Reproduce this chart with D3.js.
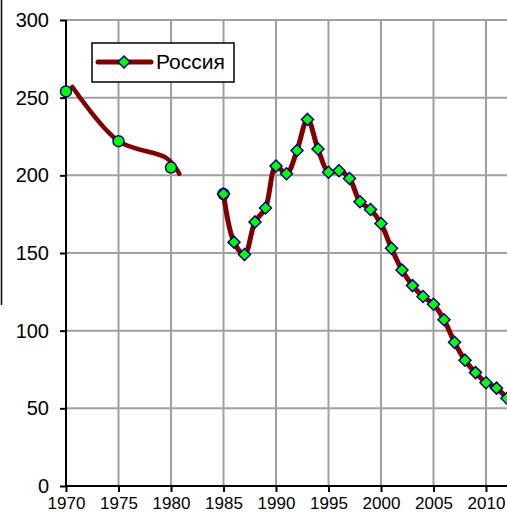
<!DOCTYPE html>
<html>
<head>
<meta charset="utf-8">
<script src="https://cdn.jsdelivr.net/npm/d3@7"></script>
<style>
    body { margin: 0; background: #fff; }
    svg { display: block; font-family: Arial, "Liberation Sans", sans-serif; }
</style>
</head>
<body>
<div id="chart"></div>
<script>
// data
var xTicks = [1970, 1975, 1980, 1985, 1990, 1995, 2000, 2005, 2010];
var yTicks = [0, 50, 100, 150, 200, 250, 300];

// early years, circle markers only
var circleYears = [1970, 1975, 1980, 1985];
var circleValues = [254, 222, 205, 188];

// the smoothed line drawn over the early circles
var earlyYears = [1970.6, 1975, 1979.6, 1980.8];
var earlyValues = [257, 222, 211, 201];

// main series (Россия)
var years = [1985, 1986, 1987, 1988, 1989, 1990, 1991, 1992, 1993, 1994,
             1995, 1996, 1997, 1998, 1999, 2000, 2001, 2002, 2003, 2004,
             2005, 2006, 2007, 2008, 2009, 2010, 2011, 2012];
var values = [188, 157, 149, 170, 179, 206, 201, 216, 236, 217,
              202, 203, 198, 183, 178, 169, 153, 139, 129, 122,
              117, 107, 92.5, 81, 73, 66.5, 63, 56.5];

(function() {
    var width = 507,
        height = 517,
        left = 66,
        top = 20,
        bottom = 486,
        lineColor = '#800000',
        gridColor = '#a0a0a0',
        markerFill = '#00ff00',
        markerStroke = '#000080';

    var svg = d3.select('#chart').append('svg')
        .attr('width', width)
        .attr('height', height);

    var x = d3.scaleLinear().domain([1970, 2010]).range([left, 486]);
    var y = d3.scaleLinear().domain([0, 300]).range([bottom, top]);

    // stray frame line on the far left
    svg.append('line')
        .attr('x1', 1.5).attr('x2', 1.5)
        .attr('y1', 0).attr('y2', 305)
        .attr('stroke', '#000')
        .attr('stroke-width', 1.5);

    // grid
    svg.append('g').selectAll('line')
        .data(yTicks.filter(function(d) { return d > 0; }))
        .enter().append('line')
        .attr('x1', left).attr('x2', width)
        .attr('y1', function(d) { return y(d); })
        .attr('y2', function(d) { return y(d); })
        .attr('stroke', gridColor)
        .attr('stroke-width', 2);

    svg.append('g').selectAll('line')
        .data(xTicks.filter(function(d) { return d > 1970; }))
        .enter().append('line')
        .attr('x1', function(d) { return x(d); })
        .attr('x2', function(d) { return x(d); })
        .attr('y1', top).attr('y2', bottom)
        .attr('stroke', gridColor)
        .attr('stroke-width', 2);

    // axes
    var yAxis = svg.append('g')
        .attr('transform', 'translate(' + left + ',0)')
        .call(d3.axisLeft(y).tickValues(yTicks).tickSize(6).tickPadding(11));
    yAxis.select('.domain').remove();
    yAxis.selectAll('line').attr('stroke', '#000').attr('stroke-width', 2);
    yAxis.selectAll('text')
        .attr('fill', '#000')
        .attr('font-size', '20px')
        .attr('font-family', 'Arial, "Liberation Sans", sans-serif');

    var xAxis = svg.append('g')
        .attr('transform', 'translate(0,' + bottom + ')')
        .call(d3.axisBottom(x).tickValues(xTicks).tickSize(6).tickPadding(5)
            .tickFormat(d3.format('d')));
    xAxis.select('.domain').remove();
    xAxis.selectAll('line').attr('stroke', '#000').attr('stroke-width', 2);
    xAxis.selectAll('text')
        .attr('fill', '#000')
        .attr('font-size', '17px')
        .attr('font-family', 'Arial, "Liberation Sans", sans-serif');

    svg.append('line')
        .attr('x1', left).attr('x2', left)
        .attr('y1', top).attr('y2', bottom + 1)
        .attr('stroke', '#000').attr('stroke-width', 2);
    svg.append('line')
        .attr('x1', left - 1).attr('x2', width)
        .attr('y1', bottom).attr('y2', bottom)
        .attr('stroke', '#000').attr('stroke-width', 2);

    var line = d3.line()
        .x(function(d) { return x(d[0]); })
        .y(function(d) { return y(d[1]); })
        .curve(d3.curveCatmullRom.alpha(0.5));

    // early smooth line
    svg.append('path')
        .datum(d3.zip(earlyYears, earlyValues))
        .attr('d', line)
        .attr('fill', 'none')
        .attr('stroke', lineColor)
        .attr('stroke-width', 4.5)
        .attr('stroke-linecap', 'round');

    // circle markers
    svg.append('g').selectAll('circle')
        .data(d3.zip(circleYears, circleValues))
        .enter().append('circle')
        .attr('cx', function(d) { return x(d[0]); })
        .attr('cy', function(d) { return y(d[1]); })
        .attr('r', 5.5)
        .attr('fill', markerFill)
        .attr('stroke', markerStroke)
        .attr('stroke-width', 1.5);

    // main line
    var pts = d3.zip(years, values);
    svg.append('path')
        .datum(pts)
        .attr('d', line)
        .attr('fill', 'none')
        .attr('stroke', lineColor)
        .attr('stroke-width', 5)
        .attr('stroke-linejoin', 'round');

    var diamond = 'M0,-6 L6,0 L0,6 L-6,0 Z';
    svg.append('g').selectAll('path')
        .data(pts)
        .enter().append('path')
        .attr('d', diamond)
        .attr('transform', function(d) { return 'translate(' + x(d[0]) + ',' + y(d[1]) + ')'; })
        .attr('fill', markerFill)
        .attr('stroke', markerStroke)
        .attr('stroke-width', 1.5);

    // legend
    var lg = svg.append('g').attr('transform', 'translate(92,43)');
    lg.append('rect')
        .attr('width', 142).attr('height', 39)
        .attr('fill', '#fff')
        .attr('stroke', '#000')
        .attr('stroke-width', 1.5);
    lg.append('line')
        .attr('x1', 6).attr('x2', 59)
        .attr('y1', 19).attr('y2', 19)
        .attr('stroke', lineColor)
        .attr('stroke-width', 5)
        .attr('stroke-linecap', 'round');
    lg.append('path')
        .attr('d', diamond)
        .attr('transform', 'translate(32,19)')
        .attr('fill', markerFill)
        .attr('stroke', markerStroke)
        .attr('stroke-width', 1.5);
    lg.append('text')
        .attr('x', 64).attr('y', 19)
        .attr('dy', '0.35em')
        .attr('font-size', '21px')
        .text('Россия');
})();
</script>
</body>
</html>
